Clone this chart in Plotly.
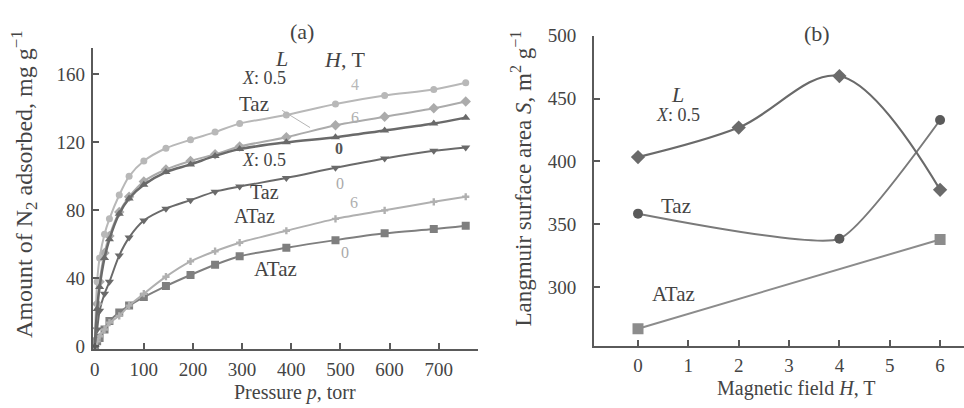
import plotly.graph_objects as go

# ---------------- Panel (a) data ----------------
pressure = [0, 5, 10, 20, 30, 50, 70, 100, 145, 195, 245, 295, 390, 490, 590, 690, 755]
L_H4 = [0, 38, 52, 66, 75, 89, 100, 109, 116.5, 121.5, 126, 131, 136, 142.5, 147.5, 151, 155]
L_H6 = [0, 25, 38, 55, 65, 79, 88, 97, 104, 109, 113, 117.5, 123, 130, 135, 140, 144]
Taz_H0 = [0, 22, 35, 52, 63, 78, 87, 95, 102.5, 107, 112, 116, 120, 123, 127, 131, 134.5]
L_H0 = [0, 10, 21, 31, 38, 53.5, 64, 74, 81, 86, 91, 94, 99, 105, 110.5, 115, 117]
ATaz_H6 = [0, 3, 6, 10, 14, 18, 24, 31, 41, 50, 56, 61, 68, 75, 80, 85, 88]
ATaz_H0 = [0, 3, 5, 10, 15, 20, 24, 29, 35.5, 42, 48, 53, 58, 62.5, 66.5, 69, 71]

# ---------------- Panel (b) data ----------------
H_L = [0, 2, 4, 6]
S_L = [403.5, 427, 468, 377.5]
H_Taz = [0, 4, 6]
S_Taz = [358.5, 338.5, 433]
H_ATaz = [0, 6]
S_ATaz = [267, 338]

x_ticks_a = [0, 100, 200, 300, 400, 500, 600, 700]
y_ticks_a = [0, 40, 80, 120, 160]
x_ticks_b = [0, 1, 2, 3, 4, 5, 6]
y_ticks_b = [300, 350, 400, 450, 500]

W, Hh = 964, 408
FONT = "Liberation Serif"
AX = "#5a5a5a"

fig = go.Figure()

def add_a(y, color, symbol, size, lw=2):
    fig.add_trace(go.Scatter(
        x=pressure, y=y, mode="lines+markers", xaxis="x", yaxis="y",
        line=dict(color=color, width=lw, shape="spline", smoothing=0.8),
        marker=dict(symbol=symbol, size=size, color=color),
        showlegend=False, hoverinfo="skip"))

add_a(ATaz_H0, "#7f7f7f", "square", 8)
add_a(ATaz_H6, "#b0b0b0", "cross", 6)
add_a(L_H0, "#6a6a6a", "triangle-down", 8)
add_a(L_H6, "#ababab", "diamond", 8)
add_a(L_H4, "#b8b8b8", "circle", 7)
add_a(Taz_H0, "#6a6a6a", "triangle-up", 8, lw=2.5)

fig.add_trace(go.Scatter(
    x=H_ATaz, y=S_ATaz, mode="lines+markers", xaxis="x2", yaxis="y2",
    line=dict(color="#8c8c8c", width=2),
    marker=dict(symbol="square", size=11, color="#8c8c8c"),
    showlegend=False, hoverinfo="skip"))
fig.add_trace(go.Scatter(
    x=H_Taz, y=S_Taz, mode="lines+markers", xaxis="x2", yaxis="y2",
    line=dict(color="#7a7a7a", width=2, shape="spline", smoothing=0.45),
    marker=dict(symbol="circle", size=10, color="#5a5a5a"),
    showlegend=False, hoverinfo="skip"))
fig.add_trace(go.Scatter(
    x=H_L, y=S_L, mode="lines+markers", xaxis="x2", yaxis="y2",
    line=dict(color="#6a6a6a", width=2.2, shape="spline", smoothing=1.0),
    marker=dict(symbol="diamond", size=11, color="#6a6a6a"),
    showlegend=False, hoverinfo="skip"))

axis_common = dict(showline=True, linecolor=AX, linewidth=2, ticks="inside",
                   ticklen=6, tickwidth=2, tickcolor=AX, showgrid=False,
                   zeroline=False, tickfont=dict(family=FONT, size=19, color="#444"))

fig.update_layout(
    width=W, height=Hh, margin=dict(l=0, r=0, t=0, b=0),
    paper_bgcolor="white", plot_bgcolor="white",
    xaxis=dict(domain=[90 / W, 476 / W], range=[-4, 779], tickvals=x_ticks_a,
               anchor="y", ticklabelstandoff=2, **axis_common),
    yaxis=dict(domain=[1 - 355 / Hh, 1 - 40 / Hh], range=[-1.7, 175.3], tickvals=y_ticks_a,
               anchor="x", ticklabelstandoff=2, **axis_common),
    xaxis2=dict(domain=[593 / W, 1.0], range=[-0.871, 6.475], tickvals=x_ticks_b,
                anchor="y2", ticklabelstandoff=2, **axis_common),
    yaxis2=dict(domain=[1 - 351 / Hh, 1 - 27 / Hh], range=[253.6, 500], tickvals=y_ticks_b,
                anchor="x2", ticklabelstandoff=12, **axis_common),
)

def note(text, px, py, size=21, color="#444", angle=0):
    fig.add_annotation(text=text, x=px / W, y=1 - py / Hh, xref="paper", yref="paper",
                       showarrow=False, xanchor="center", yanchor="middle",
                       textangle=angle, font=dict(family=FONT, size=size, color=color))

# panel (a) labels
note("(a)", 300, 22, size=22)
note("<i>L</i>", 279, 51, size=22)
note("<i>H</i>, T", 343, 52, size=22)
note("<i>X</i>: 0.5", 262, 71, size=18)
note("Taz", 252, 98)
note("4", 353, 78, size=16, color="#b8b8b8")
note("6", 353, 112, size=16, color="#b0b0b0")
note("<b>0</b>", 337, 145, size=16, color="#555")
note("<i>X</i>: 0.5", 262, 157, size=18)
note("0", 338, 182, size=16, color="#aaa")
note("Taz", 262, 190, size=20)
note("6", 352, 201, size=16, color="#b0b0b0")
note("ATaz", 252, 216, size=20)
note("0", 343, 254, size=16, color="#aaa")
note("ATaz", 273, 271)
fig.add_shape(type="line", xref="paper", yref="paper",
              x0=280 / W, y0=1 - 105 / Hh, x1=308 / W, y1=1 - 123 / Hh,
              line=dict(color="#b5b5b5", width=1))

# panel (b) labels
note("(b)", 817, 25, size=22)
note("<i>L</i>", 677, 88, size=22)
note("<i>X</i>: 0.5", 677, 110, size=18)
note("Taz", 675, 205)
note("ATaz", 673, 297)

# axis titles
note("Amount of N<sub>2</sub> adsorbed, mg g<sup>−1</sup>", 21, 182, size=24, angle=-90)
note("Pressure <i>p</i>, torr", 293, 400, size=20)
note("Langmuir surface area <i>S</i>, m<sup>2</sup> g<sup>−1</sup>", 520, 176, size=23, angle=-90)
note("Magnetic field <i>H</i>, T", 796, 396, size=20)

fig.write_html("out.html")
